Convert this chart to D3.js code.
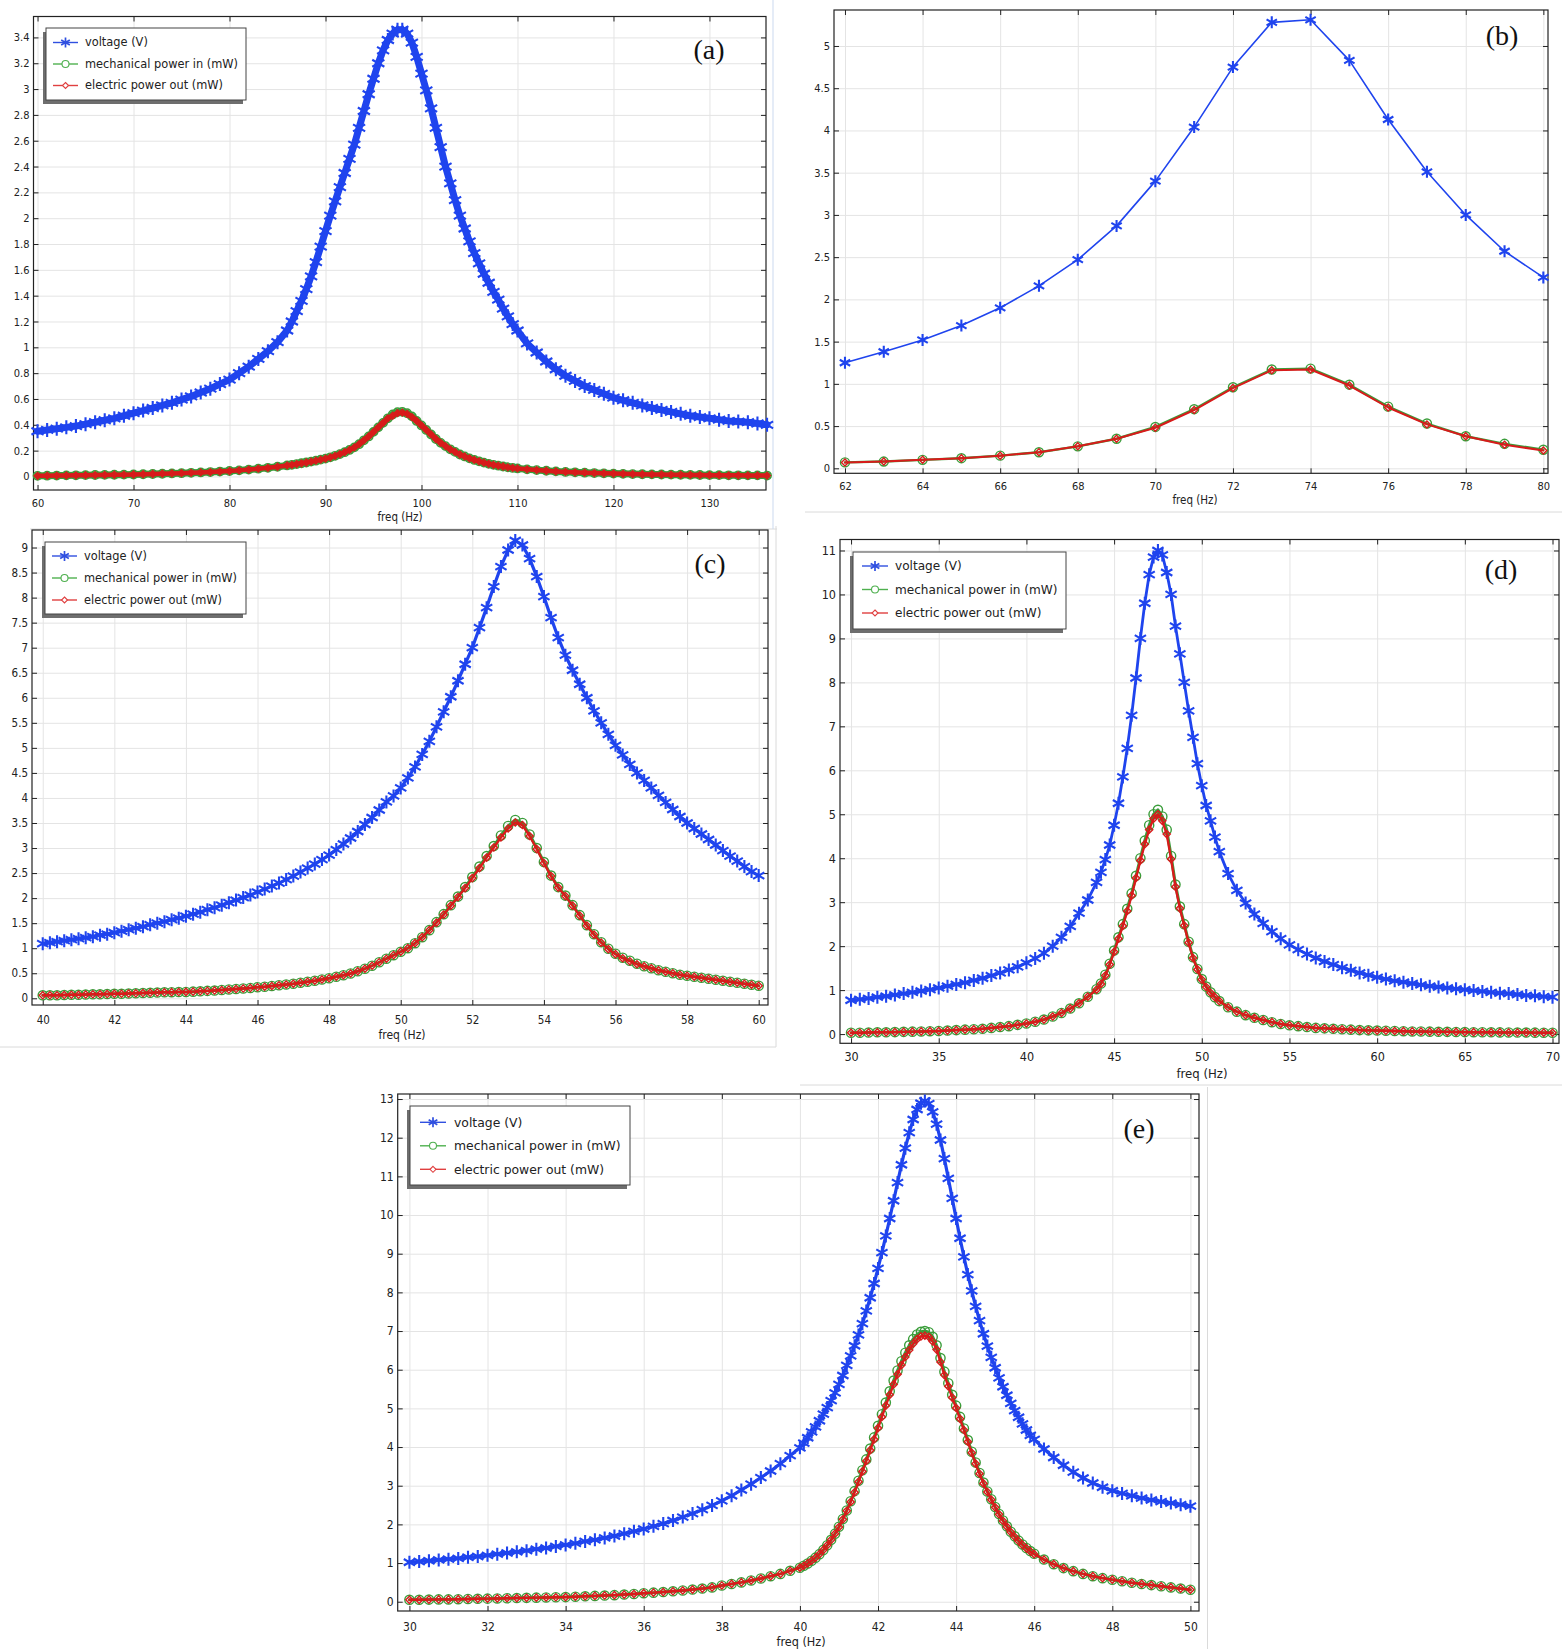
<!DOCTYPE html>
<meta charset="utf-8">
<style>
  body { margin: 0; background: #fff; }
  svg { display: block; }
  .grid line { stroke: #e4e4e4; stroke-width: 1; }
  .grid .domain, .ax .domain { display: none; }
  .ax line { stroke: #222; }
  .ax text { font-family: "DejaVu Sans", sans-serif; font-stretch: condensed; fill: #222; }
  .frame { fill: none; stroke: #222; stroke-width: 1.2; }
  .xlab { font-family: "DejaVu Sans", sans-serif; font-stretch: condensed; fill: #222; text-anchor: middle; }
  .tag { font-family: "Liberation Serif", "Times New Roman", serif; fill: #111; text-anchor: middle; }
  .legend text { font-family: "DejaVu Sans", sans-serif; fill: #222; }
  .sep { stroke: #dadada; stroke-width: 1; }
</style>
<body>
<script src="https://cdn.jsdelivr.net/npm/d3@7/dist/d3.min.js"></script>
<script>
// ---- data ----
var legendLabels = ["voltage (V)", "mechanical power in (mW)", "electric power out (mW)"];

// (a)
var xTicksA = [60, 70, 80, 90, 100, 110, 120, 130];
var yTicksA = [0, 0.2, 0.4, 0.6, 0.8, 1, 1.2, 1.4, 1.6, 1.8, 2, 2.2, 2.4, 2.6, 2.8, 3, 3.2, 3.4];
var freqA = d3.range(60, 86).concat(d3.range(172, 220).map(function(i) { return i / 2; }), d3.range(110, 137));
var voltA = [0.35,0.36,0.37,0.38,0.39,0.405,0.42,0.435,0.45,0.47,0.49,0.51,0.53,0.55,0.57,0.595,0.62,0.65,0.68,0.715,0.75,0.80,0.85,0.91,0.97,1.04,
  1.13,1.2,1.28,1.36,1.45,1.55,1.66,1.78,1.9,2.02,2.13,2.24,2.35,2.46,2.57,2.7,2.83,2.96,3.08,3.2,3.3,3.38,3.43,3.46,
  3.46,3.43,3.36,3.25,3.12,2.99,2.85,2.7,2.55,2.4,2.27,2.14,2.02,1.92,1.82,1.73,1.65,1.57,1.5,1.43,1.37,1.3,1.24,1.18,
  1.13,1.03,0.96,0.89,0.83,0.78,0.74,0.70,0.67,0.64,0.61,0.59,0.57,0.55,0.53,0.515,0.50,0.485,0.47,0.46,0.45,0.44,0.43,0.425,0.42,0.41,0.40];
var mechA = [.005,.006,.007,.008,.009,.010,.011,.012,.013,.014,.015,.017,.019,.021,.023,.025,.028,.031,.034,.038,.042,.047,.053,.060,.067,.075,
  .085,.09,.096,.102,.108,.115,.122,.13,.138,.148,.16,.173,.188,.205,.225,.25,.28,.31,.345,.38,.415,.45,.48,.498,
  .50,.49,.465,.43,.395,.36,.325,.29,.26,.235,.21,.19,.17,.155,.14,.128,.117,.107,.098,.09,.083,.077,.071,.066,
  .062,.055,.049,.044,.039,.035,.032,.029,.026,.024,.022,.020,.018,.017,.016,.015,.014,.013,.012,.011,.010,.010,.009,.009,.008,.008,.007];
var elecA = [.005,.006,.007,.008,.009,.010,.011,.012,.013,.014,.015,.017,.019,.021,.023,.025,.028,.031,.034,.038,.042,.047,.053,.060,.067,.075,
  .085,.09,.096,.102,.108,.115,.122,.13,.138,.148,.16,.173,.188,.205,.225,.25,.28,.31,.345,.38,.415,.45,.47,.49,
  .495,.485,.46,.43,.395,.36,.325,.29,.26,.235,.21,.19,.17,.155,.14,.128,.117,.107,.098,.09,.083,.077,.071,.066,
  .062,.055,.049,.044,.039,.035,.032,.029,.026,.024,.022,.020,.018,.017,.016,.015,.014,.013,.012,.011,.010,.010,.009,.009,.008,.008,.007];

// (b)
var xTicksB = [62, 64, 66, 68, 70, 72, 74, 76, 78, 80];
var yTicksB = [0, 0.5, 1, 1.5, 2, 2.5, 3, 3.5, 4, 4.5, 5];
var freqB = d3.range(62, 81);
var voltB = [1.25,1.38,1.52,1.69,1.90,2.16,2.47,2.87,3.40,4.04,4.75,5.28,5.31,4.83,4.13,3.51,3.00,2.57,2.26];
var mechB = [0.07,0.08,0.10,0.12,0.15,0.19,0.26,0.35,0.49,0.70,0.96,1.17,1.18,0.99,0.73,0.53,0.38,0.29,0.22];
var elecB = [0.07,0.08,0.10,0.12,0.15,0.19,0.26,0.35,0.48,0.69,0.95,1.16,1.17,0.98,0.72,0.52,0.38,0.28,0.21];

// (c)
var xTicksC = [40, 42, 44, 46, 48, 50, 52, 54, 56, 58, 60];
var yTicksC = [0, 0.5, 1, 1.5, 2, 2.5, 3, 3.5, 4, 4.5, 5, 5.5, 6, 6.5, 7, 7.5, 8, 8.5, 9];
var freqC = d3.range(200, 301).map(function(i) { return i / 5; });
var voltC = [1.09,1.11,1.13,1.15,1.17,1.19,1.21,1.23,1.26,1.28,1.31,1.34,1.37,1.40,1.43,1.47,1.50,1.53,1.57,1.60,
  1.64,1.68,1.72,1.77,1.81,1.86,1.91,1.96,2.01,2.06,2.12,2.18,2.24,2.30,2.37,2.44,2.52,2.60,2.68,2.77,
  2.86,2.97,3.08,3.20,3.33,3.47,3.61,3.76,3.92,4.04,4.20,4.40,4.62,4.87,5.13,5.42,5.72,6.02,6.34,6.67,
  7.00,7.40,7.80,8.22,8.62,8.95,9.14,9.05,8.78,8.42,8.02,7.60,7.20,6.85,6.55,6.27,6.00,5.74,5.50,5.27,
  5.05,4.86,4.67,4.50,4.35,4.20,4.05,3.91,3.77,3.63,3.50,3.39,3.28,3.17,3.06,2.95,2.84,2.74,2.63,2.53,2.45];
var mechC = [0.06,0.06,0.06,0.065,0.07,0.07,0.075,0.08,0.08,0.085,0.09,0.09,0.095,0.10,0.105,0.11,0.115,0.12,0.122,0.125,
  0.127,0.133,0.14,0.148,0.155,0.165,0.175,0.185,0.195,0.205,0.22,0.23,0.245,0.26,0.275,0.29,0.31,0.33,0.35,0.375,
  0.40,0.43,0.46,0.495,0.54,0.59,0.65,0.72,0.79,0.86,0.93,1.0,1.1,1.22,1.36,1.52,1.68,1.86,2.03,2.22,
  2.42,2.63,2.84,3.04,3.25,3.44,3.56,3.5,3.27,3.0,2.72,2.45,2.22,2.05,1.86,1.66,1.46,1.28,1.12,0.99,
  0.89,0.81,0.75,0.69,0.64,0.60,0.56,0.53,0.50,0.47,0.45,0.43,0.41,0.39,0.37,0.35,0.33,0.31,0.29,0.27,0.25];
var elecC = [0.06,0.06,0.06,0.065,0.07,0.07,0.075,0.08,0.08,0.085,0.09,0.09,0.095,0.10,0.105,0.11,0.115,0.12,0.122,0.125,
  0.127,0.133,0.14,0.148,0.155,0.165,0.175,0.185,0.195,0.205,0.22,0.23,0.245,0.26,0.275,0.29,0.31,0.33,0.35,0.375,
  0.40,0.43,0.46,0.495,0.54,0.59,0.65,0.72,0.79,0.86,0.93,1.0,1.1,1.22,1.36,1.51,1.67,1.85,2.02,2.2,
  2.4,2.6,2.81,3.01,3.21,3.39,3.51,3.46,3.24,2.98,2.7,2.44,2.21,2.04,1.85,1.65,1.45,1.27,1.11,0.98,
  0.88,0.8,0.74,0.68,0.64,0.60,0.56,0.53,0.50,0.47,0.45,0.43,0.41,0.39,0.37,0.35,0.33,0.31,0.29,0.27,0.25];

// (d) - finer sampling around the peak
var xTicksD = [30, 35, 40, 45, 50, 55, 60, 65, 70];
var yTicksD = [0, 1, 2, 3, 4, 5, 6, 7, 8, 9, 10, 11];
var freqD = d3.range(60, 88).map(function(i) { return i / 2; })
  .concat(d3.range(176, 205).map(function(i) { return i / 4; }), d3.range(103, 141).map(function(i) { return i / 2; }));
var voltD = [0.77,0.79,0.81,0.84,0.86,0.89,0.92,0.95,0.98,1.01,1.05,1.09,1.13,1.17,1.22,1.27,1.33,1.39,1.46,1.53,
  1.62,1.72,1.84,2.0,2.2,2.45,2.75,3.05,
  3.45,3.68,3.97,4.3,4.75,5.25,5.85,6.5,7.25,8.1,9.0,9.8,10.45,10.85,11.0,10.9,10.5,10.0,9.28,8.65,8.0,7.35,6.75,6.15,5.65,5.2,4.85,4.48,4.15,
  3.65,3.27,2.98,2.73,2.52,2.33,2.17,2.03,1.92,1.82,1.73,1.65,1.58,1.51,1.45,1.39,1.34,1.29,1.25,1.21,
  1.18,1.15,1.12,1.09,1.07,1.05,1.03,1.01,0.99,0.97,0.95,0.93,0.92,0.90,0.88,0.87,0.85,0.84];
var mechD = [0.03,0.03,0.035,0.04,0.04,0.045,0.05,0.055,0.06,0.065,0.07,0.08,0.09,0.10,0.11,0.12,0.14,0.16,0.18,0.21,
  0.24,0.28,0.33,0.40,0.48,0.58,0.70,0.85,
  1.02,1.15,1.35,1.6,1.9,2.2,2.5,2.85,3.2,3.6,4.0,4.4,4.75,5.0,5.1,4.95,4.65,4.05,3.4,2.9,2.5,2.1,1.75,1.48,1.25,1.08,0.95,0.84,0.75,
  0.61,0.51,0.43,0.37,0.32,0.27,0.23,0.2,0.18,0.16,0.14,0.13,0.12,0.11,0.10,0.09,0.085,0.08,0.075,0.07,
  0.065,0.06,0.058,0.055,0.052,0.05,0.048,0.045,0.043,0.041,0.04,0.038,0.036,0.035,0.034,0.032,0.031,0.03];
var elecD = [0.03,0.03,0.035,0.04,0.04,0.045,0.05,0.055,0.06,0.065,0.07,0.08,0.09,0.10,0.11,0.12,0.14,0.16,0.18,0.21,
  0.24,0.28,0.33,0.40,0.48,0.58,0.70,0.85,
  1.01,1.14,1.33,1.58,1.87,2.17,2.46,2.8,3.15,3.55,3.95,4.32,4.65,4.9,5.0,4.85,4.55,3.98,3.35,2.86,2.47,2.08,1.73,1.47,1.24,1.07,0.94,0.84,0.75,
  0.61,0.51,0.43,0.37,0.32,0.27,0.23,0.2,0.18,0.16,0.14,0.13,0.12,0.11,0.10,0.09,0.085,0.08,0.075,0.07,
  0.065,0.06,0.058,0.055,0.052,0.05,0.048,0.045,0.043,0.041,0.04,0.038,0.036,0.035,0.034,0.032,0.031,0.03];

// (e) - finer sampling around the peak
var xTicksE = [30, 32, 34, 36, 38, 40, 42, 44, 46, 48, 50];
var yTicksE = [0, 1, 2, 3, 4, 5, 6, 7, 8, 9, 10, 11, 12, 13];
var freqE = d3.range(120, 160).map(function(i) { return i / 4; })
  .concat(d3.range(400, 461).map(function(i) { return i / 10; }), d3.range(185, 201).map(function(i) { return i / 4; }));
var voltE = [1.02,1.04,1.06,1.08,1.10,1.12,1.15,1.17,1.20,1.23,1.26,1.29,1.32,1.36,1.39,1.43,1.47,1.51,1.56,1.60,
  1.65,1.70,1.76,1.82,1.88,1.95,2.02,2.10,2.19,2.28,2.38,2.49,2.61,2.74,2.89,3.04,3.21,3.38,3.57,3.78,
  3.98,4.1,4.24,4.39,4.52,4.68,4.85,5.02,5.2,5.4,5.62,5.85,6.11,6.36,6.62,6.9,7.19,7.52,7.86,8.23,
  8.62,9.03,9.46,9.91,10.37,10.84,11.3,11.73,12.13,12.47,12.73,12.89,12.95,12.88,12.67,12.35,11.94,11.46,10.95,10.43,
  9.91,9.4,8.92,8.46,8.04,7.64,7.27,6.93,6.61,6.32,6.05,5.79,5.56,5.34,5.13,4.94,4.77,4.6,4.44,4.3,4.2,
  3.95,3.73,3.53,3.35,3.2,3.07,2.96,2.87,2.8,2.74,2.68,2.63,2.59,2.55,2.51,2.47];
var mechE = [.05,.05,.055,.06,.06,.065,.07,.075,.08,.085,.09,.095,.10,.105,.11,.115,.12,.13,.14,.15,
  .16,.17,.185,.20,.22,.235,.25,.27,.29,.315,.34,.37,.42,.46,.50,.55,.60,.66,.72,.80,
  .88,.93,.99,1.06,1.14,1.23,1.34,1.46,1.6,1.76,1.94,2.14,2.36,2.6,2.86,3.13,3.4,3.68,3.96,4.25,
  4.55,4.85,5.15,5.44,5.72,5.98,6.22,6.44,6.63,6.79,6.91,6.98,7.0,6.97,6.85,6.63,6.3,5.95,5.65,5.35,
  5.07,4.78,4.48,4.18,3.88,3.6,3.33,3.08,2.85,2.65,2.45,2.27,2.1,1.95,1.81,1.69,1.58,1.48,1.39,1.31,1.24,
  1.09,.97,.87,.79,.72,.66,.61,.57,.53,.49,.46,.43,.40,.37,.34,.31];
var elecE = [.05,.05,.055,.06,.06,.065,.07,.075,.08,.085,.09,.095,.10,.105,.11,.115,.12,.13,.14,.15,
  .16,.17,.185,.20,.22,.235,.25,.27,.29,.315,.34,.37,.42,.46,.50,.55,.60,.66,.72,.80,
  .88,.93,.99,1.06,1.14,1.23,1.34,1.46,1.6,1.76,1.93,2.13,2.35,2.58,2.83,3.1,3.37,3.64,3.92,4.2,
  4.49,4.78,5.07,5.35,5.62,5.88,6.12,6.33,6.51,6.67,6.79,6.86,6.88,6.85,6.73,6.52,6.2,5.86,5.57,5.28,
  5.01,4.73,4.44,4.14,3.85,3.57,3.31,3.06,2.84,2.64,2.44,2.26,2.09,1.94,1.8,1.68,1.57,1.47,1.38,1.3,1.23,
  1.09,.97,.87,.79,.72,.66,.61,.57,.53,.49,.46,.43,.40,.37,.34,.31];

// ---- layout ----
var width = 1562, height = 1649;
var colVolt = "#1f44ee", colMech = "#3a9d3a", colElec = "#d81b1b";

var panels = [
  { tag: "(a)", left: 33.5, top: 16.5, right: 766, bottom: 490, xDom: [59.58, 135.89], yDom: [-0.105, 3.562],
    xTicks: xTicksA, yTicks: yTicksA, freq: freqA, volt: voltA, mech: mechA, elec: elecA,
    fs: 11, pad: 9, xlab: [400, 517], tagPos: [709, 49], star: 14, circ: 4.2, dia: 3.4, vlw: 7, mlw: 7, elw: 4.5,
    legend: { x: 46, y: 28, w: 200, h: 72, row0: 14.5, dy: 21.5, l0: 7, l1: 32, tx: 39, fs: 11.4 } },
  { tag: "(b)", left: 834, top: 10, right: 1548, bottom: 473.3, xDom: [61.717, 80.12], yDom: [-0.059, 5.426],
    xTicks: xTicksB, yTicks: yTicksB, freq: freqB, volt: voltB, mech: mechB, elec: elecB,
    fs: 11, pad: 9, xlab: [1195, 500], tagPos: [1502, 35], star: 12, circ: 4.5, dia: 3.5, vlw: 1.6, mlw: 2.4, elw: 2,
    legend: null },
  { tag: "(c)", left: 32, top: 530, right: 768, bottom: 1005, xDom: [39.70, 60.26], yDom: [-0.134, 9.35],
    xTicks: xTicksC, yTicks: yTicksC, freq: freqC, volt: voltC, mech: mechC, elec: elecC,
    fs: 11.5, pad: 11, xlab: [402, 1035], tagPos: [710, 563], star: 13, circ: 4.6, dia: 3.6, vlw: 3.2, mlw: 3, elw: 2.4,
    legend: { x: 45, y: 542, w: 201, h: 72, row0: 14, dy: 22, l0: 7, l1: 32, tx: 39, fs: 11.4 } },
  { tag: "(d)", left: 840, top: 539.5, right: 1559, bottom: 1043.3, xDom: [29.37, 70.37], yDom: [-0.21, 11.25],
    xTicks: xTicksD, yTicks: yTicksD, freq: freqD, volt: voltD, mech: mechD, elec: elecD,
    fs: 12.5, pad: 9, xlab: [1202, 1073], tagPos: [1501, 569], star: 13, circ: 4.6, dia: 3.6, vlw: 2.8, mlw: 3, elw: 2.4,
    legend: { x: 853, y: 552, w: 213, h: 77, row0: 14, dy: 23.5, l0: 9, l1: 35, tx: 42, fs: 12.1 } },
  { tag: "(e)", left: 397.7, top: 1094, right: 1199, bottom: 1611, xDom: [29.70, 50.22], yDom: [-0.24, 13.13],
    xTicks: xTicksE, yTicks: yTicksE, freq: freqE, volt: voltE, mech: mechE, elec: elecE,
    fs: 12, pad: 11, xlab: [801, 1642], tagPos: [1139, 1128], star: 13, circ: 4.6, dia: 3.6, vlw: 3.2, mlw: 3, elw: 2.4,
    legend: { x: 410, y: 1106, w: 220, h: 79, row0: 16.3, dy: 23.5, l0: 10, l1: 36, tx: 44, fs: 12.4 } }
];

var svg = d3.select("body").append("svg")
  .attr("width", width)
  .attr("height", height);

// faint screenshot edges between the panels
var seps = [[30, 529, 777, 529], [773, 0, 773, 529], [805, 512, 1562, 512], [0, 1047, 776, 1047],
            [776, 526, 776, 1047], [800, 1085, 1562, 1085], [1207.5, 1087, 1207.5, 1649]];
svg.selectAll("line.sep").data(seps).enter().append("line")
  .attr("class", "sep")
  .attr("x1", function(d) { return d[0]; }).attr("y1", function(d) { return d[1]; })
  .attr("x2", function(d) { return d[2]; }).attr("y2", function(d) { return d[3]; })
  .style("stroke", function(d, i) { return i === 1 ? "#cbd9ef" : "#dadada"; });

function starPath(s) {
  var r = s / 2, a = r * 0.866, b = r * 0.5;
  return "M0," + (-r) + "L0," + r + "M" + (-a) + "," + (-b) + "L" + a + "," + b + "M" + (-a) + "," + b + "L" + a + "," + (-b);
}
function circlePath(r) {
  return "M" + r + ",0A" + r + "," + r + " 0 1,1 " + (-r) + ",0A" + r + "," + r + " 0 1,1 " + r + ",0Z";
}
function diamondPath(d) {
  return "M0," + (-d) + "L" + d + ",0L0," + d + "L" + (-d) + ",0Z";
}

function drawSeries(g, x, y, freq, vals, color, shape, lw, mw) {
  var n = Math.min(freq.length, vals.length);
  var pts = d3.range(n).map(function(i) { return [freq[i], vals[i]]; });
  g.append("path").datum(pts)
    .attr("fill", "none")
    .attr("stroke", color)
    .attr("stroke-width", lw)
    .attr("stroke-linejoin", "round")
    .attr("stroke-linecap", "round")
    .attr("d", d3.line().x(function(d) { return x(d[0]); }).y(function(d) { return y(d[1]); }));
  g.append("g").selectAll("path").data(pts).enter().append("path")
    .attr("transform", function(d) { return "translate(" + x(d[0]) + "," + y(d[1]) + ")"; })
    .attr("d", shape)
    .attr("fill", "none")
    .attr("stroke", color)
    .attr("stroke-width", mw);
}

function drawPanel(p) {
  var w = p.right - p.left, h = p.bottom - p.top;
  var x = d3.scaleLinear().domain(p.xDom).range([0, w]);
  var y = d3.scaleLinear().domain(p.yDom).range([h, 0]);
  var fmt = function(d) { return String(d); };

  var g = svg.append("g").attr("transform", "translate(" + p.left + "," + p.top + ")");

  // grid
  g.append("g").attr("class", "grid").attr("transform", "translate(0," + h + ")")
    .call(d3.axisBottom(x).tickValues(p.xTicks).tickSize(-h).tickFormat(""));
  g.append("g").attr("class", "grid")
    .call(d3.axisLeft(y).tickValues(p.yTicks).tickSize(-w).tickFormat(""));

  // inside ticks on all four sides, labels left and bottom
  var ax = [
    g.append("g").attr("transform", "translate(0," + h + ")")
      .call(d3.axisBottom(x).tickValues(p.xTicks).tickSize(-5).tickSizeOuter(0).tickPadding(p.pad).tickFormat(fmt)),
    g.append("g")
      .call(d3.axisLeft(y).tickValues(p.yTicks).tickSize(-5).tickSizeOuter(0).tickPadding(4).tickFormat(fmt)),
    g.append("g")
      .call(d3.axisTop(x).tickValues(p.xTicks).tickSize(-5).tickSizeOuter(0).tickFormat("")),
    g.append("g").attr("transform", "translate(" + w + ",0)")
      .call(d3.axisRight(y).tickValues(p.yTicks).tickSize(-5).tickSizeOuter(0).tickFormat(""))
  ];
  ax.forEach(function(a) {
    a.attr("class", "ax");
    a.selectAll("text").style("font-size", p.fs + "px");
  });

  g.append("rect").attr("class", "frame").attr("width", w).attr("height", h);

  drawSeries(g, x, y, p.freq, p.volt, colVolt, starPath(p.star), p.vlw, 2.1);
  drawSeries(g, x, y, p.freq, p.mech, colMech, circlePath(p.circ), p.mlw, 1.4);
  drawSeries(g, x, y, p.freq, p.elec, colElec, diamondPath(p.dia), p.elw, 1.4);

  svg.append("text").attr("class", "xlab")
    .attr("x", p.xlab[0]).attr("y", p.xlab[1]).attr("dy", "0.35em")
    .style("font-size", (p.fs + 0.5) + "px")
    .text("freq (Hz)");

  svg.append("text").attr("class", "tag")
    .attr("x", p.tagPos[0]).attr("y", p.tagPos[1]).attr("dy", "0.35em")
    .style("font-size", "28px")
    .text(p.tag);

  if (p.legend) drawLegend(p.legend);
}

function drawLegend(L) {
  var g = svg.append("g").attr("class", "legend").attr("transform", "translate(" + L.x + "," + L.y + ")");
  g.append("rect").attr("x", -3).attr("y", 4).attr("width", L.w).attr("height", L.h).attr("fill", "#6e6e6e");
  g.append("rect").attr("width", L.w).attr("height", L.h).attr("fill", "#fff").attr("stroke", "#444").attr("stroke-width", 1);
  var items = [
    { color: "#3050e0", shape: starPath(10), mw: 1.7 },
    { color: "#4fb04f", shape: circlePath(3.5), mw: 1.1 },
    { color: "#e04040", shape: diamondPath(3), mw: 1.1 }
  ];
  items.forEach(function(it, i) {
    var yy = L.row0 + i * L.dy;
    g.append("line").attr("x1", L.l0).attr("x2", L.l1).attr("y1", yy).attr("y2", yy)
      .attr("stroke", it.color).attr("stroke-width", 1.4);
    g.append("path").attr("transform", "translate(" + (L.l0 + L.l1) / 2 + "," + yy + ")")
      .attr("d", it.shape).attr("fill", "#fff").attr("stroke", it.color).attr("stroke-width", it.mw);
    g.append("text").attr("x", L.tx).attr("y", yy).attr("dy", "0.35em")
      .style("font-size", L.fs + "px")
      .text(legendLabels[i]);
  });
}

panels.forEach(drawPanel);
</script>
</body>
